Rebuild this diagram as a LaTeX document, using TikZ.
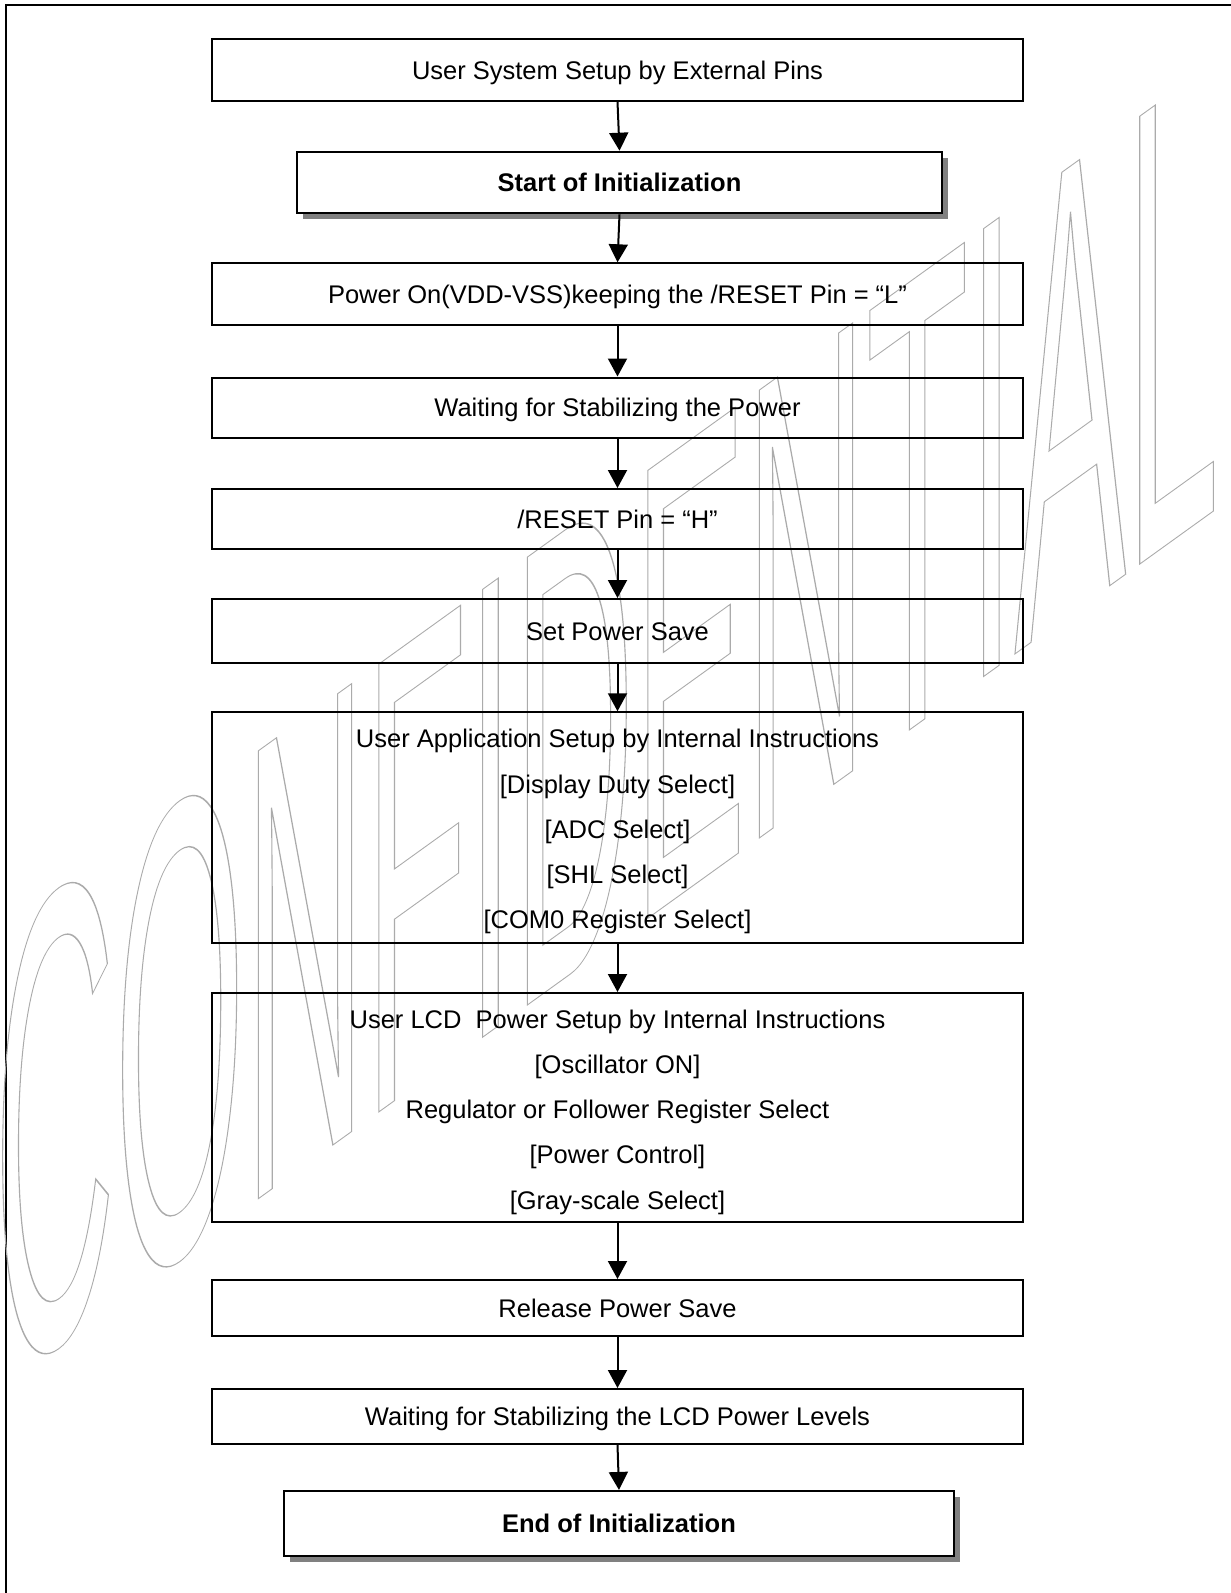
\documentclass[tikz,border=0pt]{standalone}
\usepackage{fontspec}
\setmainfont{Liberation Sans}
\newfontfamily\markfont[FakeStretch=0.2565]{Liberation Sans}
\usetikzlibrary{arrows.meta,shadows}
\begin{document}
\begin{tikzpicture}[x=1pt,y=-1pt,
  flowbox/.style={draw, line width=2pt, minimum width=811pt, inner sep=0pt,
    align=center, font=\fontsize{25.5}{45.3}\selectfont},
  oneline/.style={text height=18.3pt, text depth=0pt},
  keybox/.style={flowbox, oneline, fill=white, font=\fontsize{25.5}{30}\selectfont\bfseries,
    drop shadow={shadow xshift=6pt, shadow yshift=-6pt, fill=black!50, opacity=1}},
  flowarrow/.style={line width=2pt, -{Triangle[length=18pt,width=19pt]}}]
\useasboundingbox (0,0) rectangle (1231,1593);

% page frame (top and left rules)
\draw[line width=2pt] (6,1593) -- (6,4.5) -- (1231,4.5);

% outlined watermark
\begin{scope}[shift={(-6,1389)}, yslant=0.72]
  \node[transform shape, anchor=base west, inner sep=0pt, text=black!33] (mark) at (0,0)
    {\markfont\fontsize{651}{651}\selectfont\special{pdf:literal direct 1 Tr 1.1 w}CONFIDENTIAL\special{pdf:literal direct 0 Tr}};
\end{scope}

% flow steps
\node[flowbox, oneline, minimum height=61.4pt] (sys) at (617.5,70) {User System Setup by External Pins};
\node[keybox, minimum width=645pt, minimum height=61.6pt] (start) at (619.5,182.5) {Start of Initialization};
\node[flowbox, oneline, minimum height=62pt] (poweron) at (617.5,294.3) {Power On(VDD-VSS)keeping the /RESET Pin = “L”};
\node[flowbox, oneline, minimum height=60pt] (waitpwr) at (617.5,407.5) {Waiting for Stabilizing the Power};
\node[flowbox, oneline, minimum height=60pt] (reset) at (617.5,519) {/RESET Pin = “H”};
\node[flowbox, oneline, minimum height=64pt] (save) at (617.5,631) {Set Power Save};
\node[flowbox, minimum height=230.5pt] (app) at (617.5,827.5)
  {\rule{0pt}{27pt}User Application Setup by Internal Instructions\\{}[Display Duty Select]\\{}[ADC Select]\\{}[SHL Select]\\{}[COM0 Register Select]};
\node[flowbox, minimum height=229pt] (lcd) at (617.5,1107.5)
  {\rule{0pt}{27.5pt}User LCD\ \ Power Setup by Internal Instructions\\{}[Oscillator ON]\\Regulator or Follower Register Select\\{}[Power Control]\\{}[Gray-scale Select]};
\node[flowbox, oneline, minimum height=56pt] (release) at (617.5,1308) {Release Power Save};
\node[flowbox, oneline, minimum height=55pt] (waitlcd) at (617.5,1416.5) {Waiting for Stabilizing the LCD Power Levels};
\node[keybox, minimum width=670pt, minimum height=64.7pt] (finish) at (619,1523.3) {End of Initialization};

% connectors
\draw[flowarrow] (sys.south) -- (start.north);
\draw[flowarrow] (start.south) -- (poweron.north);
\draw[flowarrow] (poweron.south) -- (waitpwr.north);
\draw[flowarrow] (waitpwr.south) -- (reset.north);
\draw[flowarrow] (reset.south) -- (save.north);
\draw[flowarrow] (save.south) -- (app.north);
\draw[flowarrow] (app.south) -- (lcd.north);
\draw[flowarrow] (lcd.south) -- (release.north);
\draw[flowarrow] (release.south) -- (waitlcd.north);
\draw[flowarrow] (waitlcd.south) -- (finish.north);
\end{tikzpicture}
\end{document}
